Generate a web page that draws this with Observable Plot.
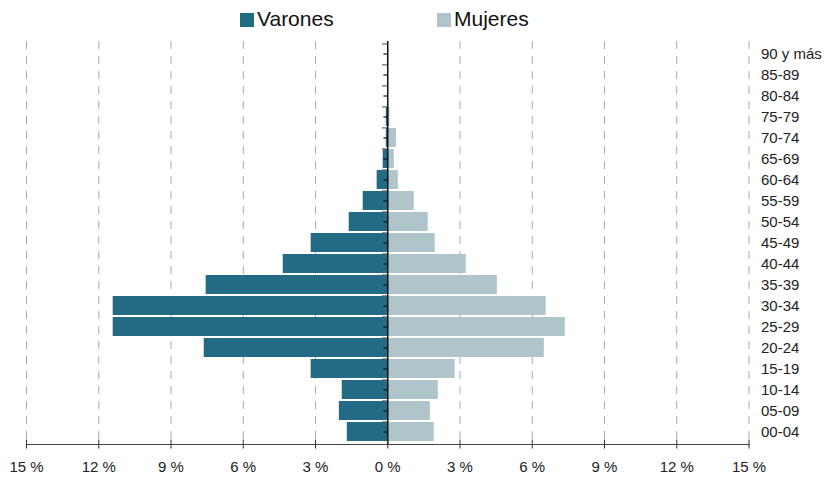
<!DOCTYPE html>
<html>
<head>
<meta charset="utf-8">
<script src="https://cdn.jsdelivr.net/npm/d3@7"></script>
<script src="https://cdn.jsdelivr.net/npm/@observablehq/plot@0.6"></script>
<style>
  body { margin: 0; background: #fff; font-family: "Liberation Sans", Arial, sans-serif; }
  #legend { position: relative; height: 38px; width: 828px; }
  .item { position: absolute; top: 7px; display: flex; align-items: center; font-size: 21px; color: #111; }
  .sw { width: 14px; height: 14px; margin-right: 3px; margin-top: 1px; }
</style>
</head>
<body>
<div id="legend"></div>
<div id="chart"></div>
<script>
const ages = ["00-04","05-09","10-14","15-19","20-24","25-29","30-34","35-39","40-44","45-49","50-54","55-59","60-64","65-69","70-74","75-79","80-84","85-89","90 y más"];
const varones = [1.68, 2.01, 1.89, 3.18, 7.62, 11.40, 11.40, 7.54, 4.34, 3.18, 1.60, 1.02, 0.44, 0.19, 0.06, 0.06, 0, 0, 0];
const mujeres = [1.93, 1.77, 2.10, 2.80, 6.50, 7.37, 6.58, 4.55, 3.26, 1.97, 1.68, 1.10, 0.44, 0.27, 0.36, 0.09, 0, 0, 0];
const series = ["Varones", "Mujeres"];
const colors = ["#236b85", "#b0c5cb"];
const xTicks = [-15, -12, -9, -6, -3, 0, 3, 6, 9, 12, 15];

const data = ages.flatMap((a, i) => [
  {age: a, sex: series[0], v: -varones[i]},
  {age: a, sex: series[1], v: mujeres[i]}
]);

// legend
const legend = document.getElementById("legend");
const legendX = [240, 437];
series.forEach((s, i) => {
  const it = document.createElement("div");
  it.className = "item";
  it.style.left = legendX[i] + "px";
  it.innerHTML = `<span class="sw" style="background:${colors[i]}"></span><span>${s}</span>`;
  legend.appendChild(it);
});

const domainY = ages.slice().reverse();

const chart = Plot.plot({
  width: 828,
  height: 439,
  marginTop: 3,
  marginBottom: 33,
  marginLeft: 26,
  marginRight: 79.5,
  style: {fontFamily: "Liberation Sans, Arial, sans-serif", fontSize: "15px", color: "#222", background: "#fff"},
  x: {domain: [-15, 15], ticks: xTicks, label: null},
  y: {domain: domainY, padding: 0.1, label: null},
  color: {domain: series, range: colors},
  marks: [
    Plot.ruleX(xTicks.filter(d => d !== 0), {stroke: "#aaa", strokeWidth: 1, strokeDasharray: "8,7"}),
    Plot.barX(data, {x: "v", y: "age", fill: "sex"}),
    Plot.ruleY(ages, {y: d => d, x1: -0.16, x2: 0, stroke: "#111", strokeWidth: 1.2}),
    Plot.ruleY(ages, {y: d => d, x1: -0.22, x2: 0, stroke: "#666", strokeWidth: 1.2, dy: -10.1}),
    Plot.ruleX([0], {stroke: "#111", strokeWidth: 1.5}),
    Plot.frame({anchor: "bottom", stroke: "#444", strokeWidth: 1.2}),
    Plot.axisX({ticks: xTicks, tickSize: 9, dy: -4.5, text: null, stroke: "#333", tickWidth: 1.2}),
    Plot.axisX({ticks: xTicks, tickSize: 0, tickPadding: 17, tickFormat: d => Math.abs(d) + " %", fontSize: 15, fill: "#222"}),
    Plot.axisY({anchor: "right", tickSize: 0, tickPadding: 12, fontSize: 15, fill: "#222"})
  ]
});
document.getElementById("chart").appendChild(chart);
</script>
</body>
</html>
